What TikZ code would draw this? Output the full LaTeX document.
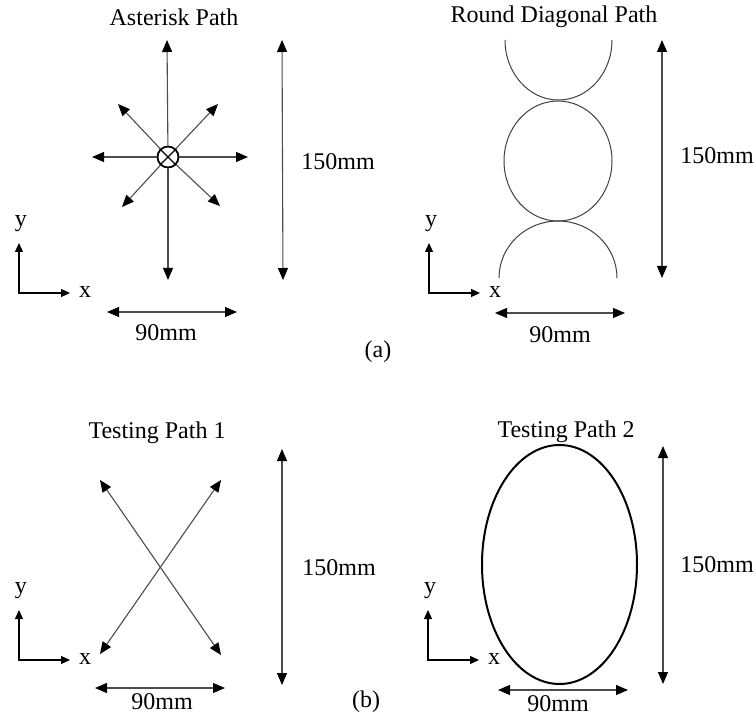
\documentclass[tikz,border=0pt]{standalone}
\usepackage{fontspec}
\setmainfont{Liberation Serif}
\usetikzlibrary{arrows.meta}

\begin{document}
\begin{tikzpicture}[x=0.5pt, y=-0.5pt,
  every node/.style={font=\fontsize{12}{14}\selectfont, inner sep=0pt},
  dim/.style={draw=black!70, line width=0.55pt, {Triangle[length=6pt,width=5pt,color=black]}-{Triangle[length=6pt,width=5pt,color=black]}},
  ray/.style={draw=black!70, line width=0.55pt, -{Triangle[length=6pt,width=5pt,color=black]}},
  axis/.style={draw=black, line width=0.6pt, {Triangle[length=4.5pt,width=4pt]}-{Triangle[length=4.5pt,width=4pt]}},
  track/.style={draw=black!75, line width=0.5pt}]
  \useasboundingbox (0,0) rectangle (756,717);

  % x-y axes of the four panels
  \foreach \cx/\cy [count=\i] in {19/293, 429/293, 19/660, 428/660} {
    \coordinate (o\i) at (\cx,\cy);
    \coordinate (ytip\i) at (\cx,\cy-50);
    \coordinate (xtip\i) at (\cx+51,\cy);
    \draw[axis] (ytip\i) -- (o\i) -- (xtip\i);
    \node (ylab\i) at (\cx+2,\cy-69) {y};
    \node (xlab\i) at (\cx+66,\cy-1) {x};
  }

  % (a) asterisk path
  \node (astTitle) at (174,17) {Asterisk Path};
  \node[circle, draw=black, line width=0.9pt, fill=white, minimum size=10.5pt] (hub) at (168,157) {};
  \draw[black, line width=0.7pt] (hub.north west) -- (hub.south east) (hub.north east) -- (hub.south west);
  \coordinate (aN) at (167,40);   \coordinate (aS) at (168,280);
  \coordinate (aW) at (92,157);   \coordinate (aE) at (248,157);
  \coordinate (aNW) at (118,104); \coordinate (aNE) at (218,104);
  \coordinate (aSW) at (122,207); \coordinate (aSE) at (220,206);
  \foreach \t in {aN,aS,aW,aE,aNW,aNE,aSW,aSE}
    \draw[ray] (hub) -- (\t);
  \coordinate (aH1) at (282,40);  \coordinate (aH2) at (283,280);
  \draw[dim] (aH1) -- (aH2);
  \node (aHlab) at (338,162) {150mm};
  \coordinate (aW1) at (107,312); \coordinate (aW2) at (237,312);
  \draw[dim] (aW1) -- (aW2);
  \node (aWlab) at (166,333) {90mm};

  % (a) round diagonal path
  \node (rndTitle) at (554,17) {Round Diagonal Path};
  \draw[track] (505,40) arc[start angle=180, end angle=0, x radius=53.5, y radius=60];
  \draw[track] (558,161) ellipse[x radius=54, y radius=60];
  \draw[track] (499,278) arc[start angle=180, end angle=360, x radius=59, y radius=57];
  \coordinate (rH1) at (662,40);  \coordinate (rH2) at (662,278);
  \draw[dim] (rH1) -- (rH2);
  \node (rHlab) at (717,156) {150mm};
  \coordinate (rW1) at (495,313); \coordinate (rW2) at (625,313);
  \draw[dim] (rW1) -- (rW2);
  \node (rWlab) at (560,335) {90mm};

  \node (capA) at (378,352) {(a)};

  % (b) testing path 1
  \node (tp1Title) at (157,433) {Testing Path 1};
  \coordinate (bNW) at (100,480); \coordinate (bSE) at (221,655);
  \coordinate (bNE) at (221,480); \coordinate (bSW) at (100,654);
  \draw[dim] (bNW) -- (bSE);
  \draw[dim] (bNE) -- (bSW);
  \coordinate (bH1) at (282,449); \coordinate (bH2) at (282,685);
  \draw[dim] (bH1) -- (bH2);
  \node (bHlab) at (339,568) {150mm};
  \coordinate (bW1) at (95,688);  \coordinate (bW2) at (225,688);
  \draw[dim] (bW1) -- (bW2);
  \node (bWlab) at (162,702) {90mm};

  % (b) testing path 2
  \draw[black, line width=1pt] (559.5,564.5) ellipse[x radius=77.5, y radius=119.5];
  \node (tp2Title) at (566,432) {Testing Path 2};
  \coordinate (eH1) at (663,446); \coordinate (eH2) at (663,684);
  \draw[dim] (eH1) -- (eH2);
  \node (eHlab) at (717,565) {150mm};
  \coordinate (eW1) at (498,690); \coordinate (eW2) at (628,690);
  \draw[dim] (eW1) -- (eW2);
  \node (eWlab) at (558,704) {90mm};

  \node (capB) at (366,702) {(b)};
\end{tikzpicture}
\end{document}
